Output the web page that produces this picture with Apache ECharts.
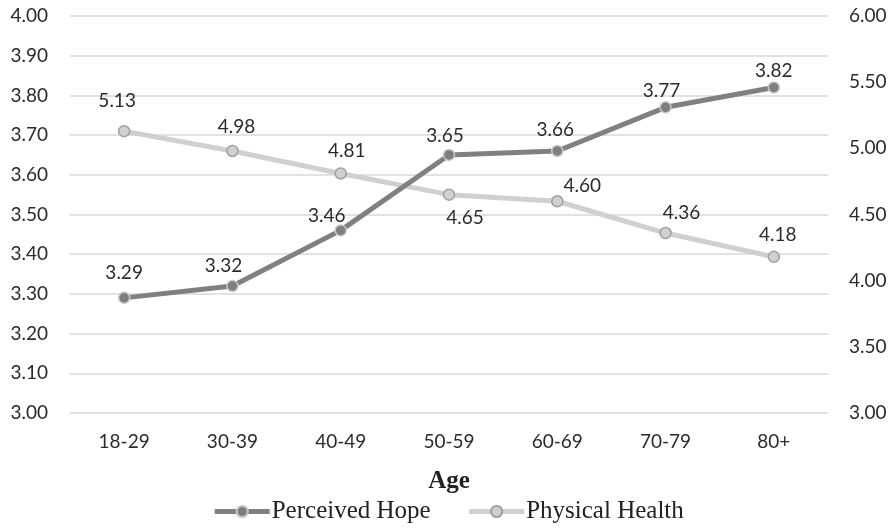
<!DOCTYPE html>
<html>
<head>
<meta charset="utf-8">
<script src="https://cdn.jsdelivr.net/npm/echarts@6/dist/echarts.min.js"></script>
<style>
  html, body { margin: 0; padding: 0; background: #fff; }
  #chart { width: 896px; height: 532px; }
</style>
</head>
<body>
<div id="chart"></div>
<script>
const ageGroups = ['18-29', '30-39', '40-49', '50-59', '60-69', '70-79', '80+']
const perceivedHope = [3.29, 3.32, 3.46, 3.65, 3.66, 3.77, 3.82]
const physicalHealth = [5.13, 4.98, 4.81, 4.65, 4.60, 4.36, 4.18]

// where each value label sits relative to its point (px)
const hopeLabelOffsets = [[0, -25], [-9, -20], [-14, -15], [-4, -19], [-2, -21], [-4, -16], [0, -17]]
const healthLabelOffsets = [[-7, -30], [4, -24], [6, -23], [16, 23], [25, -15], [16, -20], [4, -22]]

const textColor = '#2b2b2b'
const sansFont = 'Lato'
const serifFont = 'Liberation Serif'
const gridColor = '#d9d9d9'
const fontSize = 19

const chart = echarts.init(document.getElementById('chart'), null, { renderer: 'canvas' })

function withLabels(values, offsets) {
  return values.map((v, i) => ({
    value: v,
    label: { offset: offsets[i] },
  }))
}

const labelStyle = {
  show: true,
  position: 'inside',
  color: textColor,
  fontFamily: sansFont,
  fontSize: fontSize,
  formatter: (p) => p.value.toFixed(2),
}

chart.setOption({
  animation: false,
  backgroundColor: '#fff',
  textStyle: { fontFamily: sansFont, color: textColor },
  grid: { left: 70, right: 68, top: 16, height: 397 },
  legend: {
    bottom: 3,
    left: 'center',
    itemWidth: 55,
    itemHeight: 14,
    itemGap: 36,
    lineStyle: { width: 5 },
    textStyle: { fontFamily: serifFont, fontSize: 25, color: '#222', padding: [0, 0, 0, -3] },
    data: ['Perceived Hope', 'Physical Health'],
  },
  xAxis: {
    type: 'category',
    data: ageGroups,
    name: 'Age',
    nameLocation: 'middle',
    nameGap: 56,
    nameTextStyle: { fontFamily: serifFont, fontSize: 25, fontWeight: 'bold', color: '#222' },
    axisLine: { show: false },
    axisTick: { show: false },
    axisLabel: { color: textColor, fontSize: fontSize, margin: 19 },
  },
  yAxis: [
    {
      type: 'value',
      min: 3,
      max: 4,
      interval: 0.1,
      axisLine: { show: false },
      axisTick: { show: false },
      axisLabel: { color: textColor, fontSize: fontSize, margin: 22, formatter: (v) => v.toFixed(2) },
      splitLine: { lineStyle: { color: gridColor, width: 1.5 } },
    },
    {
      type: 'value',
      min: 3,
      max: 6,
      interval: 0.5,
      axisLine: { show: false },
      axisTick: { show: false },
      axisLabel: { color: textColor, fontSize: fontSize, margin: 21, formatter: (v) => v.toFixed(2) },
      splitLine: { show: false },
    },
  ],
  series: [
    {
      name: 'Perceived Hope',
      type: 'line',
      yAxisIndex: 0,
      data: withLabels(perceivedHope, hopeLabelOffsets),
      symbol: 'circle',
      symbolSize: 11,
      lineStyle: { color: '#808080', width: 5 },
      itemStyle: { color: '#7f7f7f', borderColor: '#c8c8c8', borderWidth: 1.5 },
      label: labelStyle,
      z: 3,
    },
    {
      name: 'Physical Health',
      type: 'line',
      yAxisIndex: 1,
      data: withLabels(physicalHealth, healthLabelOffsets),
      symbol: 'circle',
      symbolSize: 11,
      lineStyle: { color: '#d0d0d0', width: 5 },
      itemStyle: { color: '#d0d0d0', borderColor: '#a0a0a0', borderWidth: 1.5 },
      label: labelStyle,
      z: 2,
    },
  ],
})
</script>
</body>
</html>
